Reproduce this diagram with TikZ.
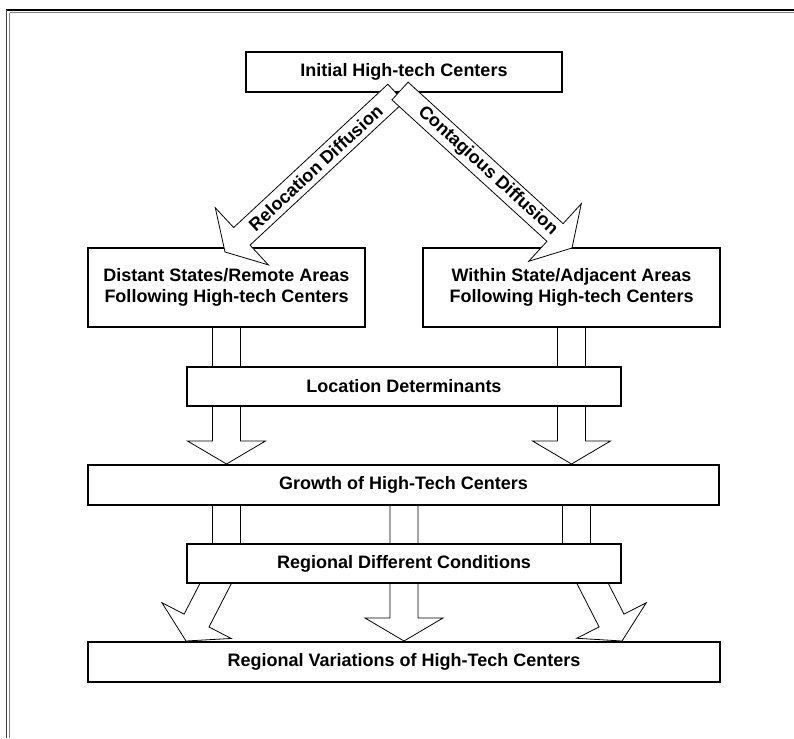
\documentclass[tikz,border=0pt]{standalone}
\usepackage{fontspec}
\setmainfont{Liberation Sans}
\usetikzlibrary{calc,backgrounds}

% wide hollow arrow from #2 to #3, #1 = half shaft width
\newcommand{\blockarrow}[3][14]{%
  \coordinate (ba-base) at ($(#3)!23pt!(#2)$);
  \draw[blockline] ($(#2)!#1pt!90:(#3)$) -- ($(ba-base)!#1pt!-90:(#2)$)
    -- ($(ba-base)!39pt!-90:(#2)$) -- (#3) -- ($(ba-base)!39pt!90:(#2)$)
    -- ($(ba-base)!#1pt!90:(#2)$) -- ($(#2)!#1pt!-90:(#3)$) -- cycle;
}

\begin{document}
\begin{tikzpicture}[x=1pt,y=-1pt,
  box/.style={draw,fill=white,line width=2pt,inner sep=0pt,align=center,
    font=\bfseries\fontsize{18}{21}\selectfont},
  blockline/.style={draw,fill=white,line width=0.8pt,line join=miter},
  flowlabel/.style={inner sep=0pt,font=\bfseries\fontsize{18}{21}\selectfont}]
\useasboundingbox (0,0) rectangle (794,738);
% frame
\draw[line width=2pt] (6,10) -- (794,10);
\draw[gray,line width=1pt] (9.5,13) -- (794,13);
\draw[black!75,line width=1pt] (6.5,10) -- (6.5,738);
\draw[gray,line width=1pt] (9.5,13) -- (9.5,738);

\node[box,minimum width=316pt,minimum height=40pt] (init) at (404,72) {Initial High-tech Centers};
\node[box,minimum width=277pt,minimum height=79pt] (distant) at (226.5,287.5) {Distant States/Remote Areas\\Following High-tech Centers};
\node[box,minimum width=297pt,minimum height=79pt] (within) at (571.5,287.5) {Within State/Adjacent Areas\\Following High-tech Centers};
\node[box,minimum width=434pt,minimum height=39pt] (locdet) at (404,386.5) {Location Determinants};
\node[box,minimum width=631pt,minimum height=40pt] (growth) at (403.5,485) {Growth of High-Tech Centers};
\node[box,minimum width=434pt,minimum height=39pt] (regcond) at (404,563.5) {Regional Different Conditions};
\node[box,minimum width=632pt,minimum height=40pt] (regvar) at (404,662) {Regional Variations of High-Tech Centers};

\begin{pgfonlayer}{background}
\coordinate (up-l) at (distant.south |- growth.north);
\coordinate (up-r) at (within.south |- growth.north);
\blockarrow{distant.center}{up-l}
\blockarrow{within.center}{up-r}
% bands under the conditions box
\coordinate (band-l) at (226.5,485);
\coordinate (band-m) at (404,485);
\coordinate (band-r) at (576.5,485);
\coordinate (band-l-end) at (226.5,578);
\coordinate (band-m-end) at (404,578);
\coordinate (band-r-end) at (576.5,578);
\blockarrow{band-l}{band-l-end}
\blockarrow{band-m}{band-m-end}
\blockarrow{band-r}{band-r-end}
\coordinate (diag-l) at (226,563.5);
\coordinate (diag-r) at (582.4,563.5);
\coordinate (diag-l-end) at (regcond.south west |- regvar.north);
\coordinate (diag-r-end) at (regcond.south east |- regvar.north);
\blockarrow{diag-l}{diag-l-end}
\blockarrow{regcond.center}{regvar.north}
\blockarrow{diag-r}{diag-r-end}
\end{pgfonlayer}

% diffusion arrows
\coordinate (reloc-start) at (396,93);
\coordinate (reloc-end) at (225,252);
\coordinate (cont-start) at (400,91);
\coordinate (cont-end) at (572,248);
\blockarrow[12]{reloc-start}{reloc-end}
\blockarrow[12]{cont-start}{cont-end}
\path (reloc-start) -- (reloc-end) node[pos=0.47,sloped,flowlabel] {Relocation Diffusion};
\path (cont-start) -- (cont-end) node[pos=0.51,sloped,flowlabel] {Contagious Diffusion};
\end{tikzpicture}
\end{document}
